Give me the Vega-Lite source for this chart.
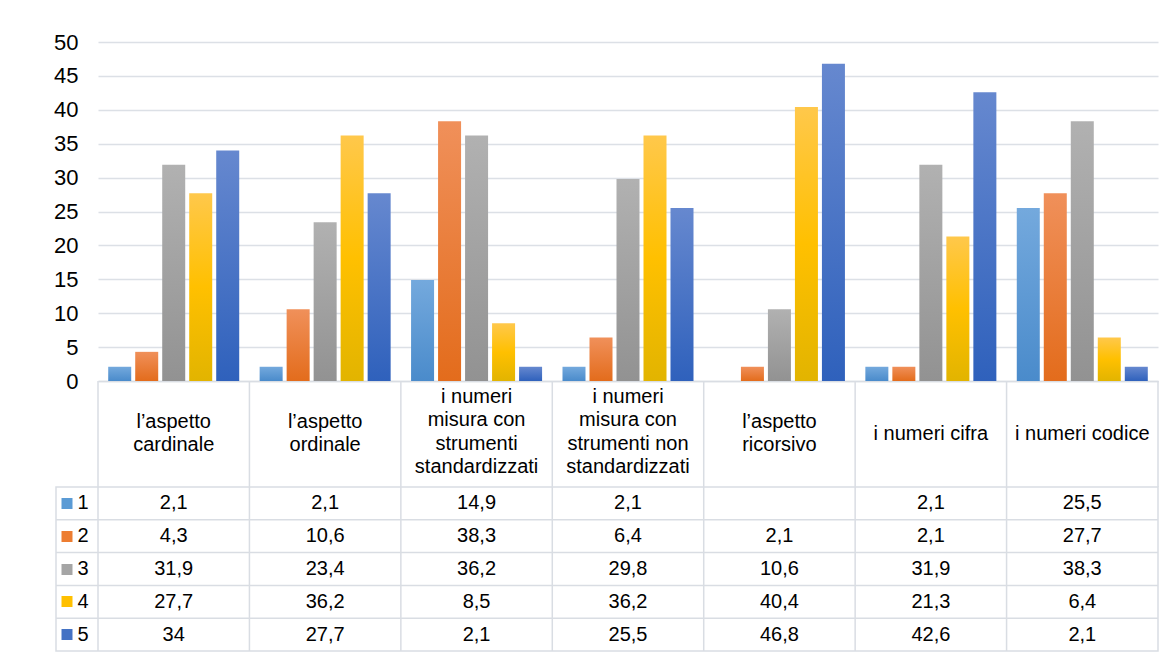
{
  "$schema": "https://vega.github.io/schema/vega-lite/v6.json",
  "autosize": {"type": "pad"},
  "padding": {"left": 53, "top": 31, "right": 0, "bottom": 0},
  "background": "white",
  "config": {
    "view": {"stroke": null},
    "locale": {"number": {"decimal": ",", "thousands": ".", "grouping": [3], "currency": ["", " €"]}},
    "font": "Liberation Sans"
  },
  "datasets": {
    "vals": [
      {"cat": "l’aspetto\ncardinale", "s": "1", "v": 2.1},
      {"cat": "l’aspetto\ncardinale", "s": "2", "v": 4.3},
      {"cat": "l’aspetto\ncardinale", "s": "3", "v": 31.9},
      {"cat": "l’aspetto\ncardinale", "s": "4", "v": 27.7},
      {"cat": "l’aspetto\ncardinale", "s": "5", "v": 34},
      {"cat": "l’aspetto\nordinale", "s": "1", "v": 2.1},
      {"cat": "l’aspetto\nordinale", "s": "2", "v": 10.6},
      {"cat": "l’aspetto\nordinale", "s": "3", "v": 23.4},
      {"cat": "l’aspetto\nordinale", "s": "4", "v": 36.2},
      {"cat": "l’aspetto\nordinale", "s": "5", "v": 27.7},
      {"cat": "i numeri\nmisura con\nstrumenti\nstandardizzati", "s": "1", "v": 14.9},
      {"cat": "i numeri\nmisura con\nstrumenti\nstandardizzati", "s": "2", "v": 38.3},
      {"cat": "i numeri\nmisura con\nstrumenti\nstandardizzati", "s": "3", "v": 36.2},
      {"cat": "i numeri\nmisura con\nstrumenti\nstandardizzati", "s": "4", "v": 8.5},
      {"cat": "i numeri\nmisura con\nstrumenti\nstandardizzati", "s": "5", "v": 2.1},
      {"cat": "i numeri\nmisura con\nstrumenti non\nstandardizzati", "s": "1", "v": 2.1},
      {"cat": "i numeri\nmisura con\nstrumenti non\nstandardizzati", "s": "2", "v": 6.4},
      {"cat": "i numeri\nmisura con\nstrumenti non\nstandardizzati", "s": "3", "v": 29.8},
      {"cat": "i numeri\nmisura con\nstrumenti non\nstandardizzati", "s": "4", "v": 36.2},
      {"cat": "i numeri\nmisura con\nstrumenti non\nstandardizzati", "s": "5", "v": 25.5},
      {"cat": "l’aspetto\nricorsivo", "s": "2", "v": 2.1},
      {"cat": "l’aspetto\nricorsivo", "s": "3", "v": 10.6},
      {"cat": "l’aspetto\nricorsivo", "s": "4", "v": 40.4},
      {"cat": "l’aspetto\nricorsivo", "s": "5", "v": 46.8},
      {"cat": "i numeri cifra", "s": "1", "v": 2.1},
      {"cat": "i numeri cifra", "s": "2", "v": 2.1},
      {"cat": "i numeri cifra", "s": "3", "v": 31.9},
      {"cat": "i numeri cifra", "s": "4", "v": 21.3},
      {"cat": "i numeri cifra", "s": "5", "v": 42.6},
      {"cat": "i numeri codice", "s": "1", "v": 25.5},
      {"cat": "i numeri codice", "s": "2", "v": 27.7},
      {"cat": "i numeri codice", "s": "3", "v": 38.3},
      {"cat": "i numeri codice", "s": "4", "v": 6.4},
      {"cat": "i numeri codice", "s": "5", "v": 2.1}
    ],
    "cats": [
      {"cat": "l’aspetto\ncardinale"},
      {"cat": "l’aspetto\nordinale"},
      {"cat": "i numeri\nmisura con\nstrumenti\nstandardizzati"},
      {"cat": "i numeri\nmisura con\nstrumenti non\nstandardizzati"},
      {"cat": "l’aspetto\nricorsivo"},
      {"cat": "i numeri cifra"},
      {"cat": "i numeri codice"}
    ],
    "series": [{"s": "1"}, {"s": "2"}, {"s": "3"}, {"s": "4"}, {"s": "5"}]
  },
  "vconcat": [
    {
      "width": 1102,
      "height": 339,
      "data": {"name": "vals"},
      "encoding": {
        "x": {
          "field": "cat", "type": "nominal", "sort": null,
          "scale": {
            "domain": ["l’aspetto\ncardinale", "l’aspetto\nordinale", "i numeri\nmisura con\nstrumenti\nstandardizzati", "i numeri\nmisura con\nstrumenti non\nstandardizzati", "l’aspetto\nricorsivo", "i numeri cifra", "i numeri codice"],
            "range": [42, 1102], "paddingInner": 0, "paddingOuter": 0
          },
          "axis": {"labels": false, "ticks": false, "title": null, "domain": true, "domainColor": "#D9DDE3", "domainWidth": 1.5, "grid": false}
        },
        "xOffset": {
          "field": "s", "type": "nominal",
          "scale": {"domain": ["1", "2", "3", "4", "5"], "paddingInner": 0.148, "paddingOuter": 0.378}
        },
        "y": {
          "field": "v", "type": "quantitative",
          "scale": {"domain": [0, 50], "nice": false},
          "axis": {
            "values": [0, 5, 10, 15, 20, 25, 30, 35, 40, 45, 50],
            "title": null, "offset": -22, "labelPadding": 0, "ticks": false, "tickSize": 0,
            "domain": false, "grid": true, "gridColor": "#DCE0E6", "gridWidth": 1.5,
            "labelFont": "Liberation Sans", "labelFontSize": 22, "labelColor": "#000000"
          }
        }
      },
      "layer": [
        {"transform": [{"filter": "datum.s == '1'"}], "mark": {"type": "bar", "color": {"gradient": "linear", "x1": 0, "y1": 0, "x2": 0, "y2": 1, "stops": [{"offset": 0, "color": "#74A9DD"}, {"offset": 1, "color": "#4A8BCB"}]}}},
        {"transform": [{"filter": "datum.s == '2'"}], "mark": {"type": "bar", "color": {"gradient": "linear", "x1": 0, "y1": 0, "x2": 0, "y2": 1, "stops": [{"offset": 0, "color": "#F0905A"}, {"offset": 1, "color": "#E36C1C"}]}}},
        {"transform": [{"filter": "datum.s == '3'"}], "mark": {"type": "bar", "color": {"gradient": "linear", "x1": 0, "y1": 0, "x2": 0, "y2": 1, "stops": [{"offset": 0, "color": "#B1B1B1"}, {"offset": 1, "color": "#929292"}]}}},
        {"transform": [{"filter": "datum.s == '4'"}], "mark": {"type": "bar", "color": {"gradient": "linear", "x1": 0, "y1": 0, "x2": 0, "y2": 1, "stops": [{"offset": 0, "color": "#FFC84B"}, {"offset": 0.5, "color": "#FFC000"}, {"offset": 1, "color": "#E2B400"}]}}},
        {"transform": [{"filter": "datum.s == '5'"}], "mark": {"type": "bar", "color": {"gradient": "linear", "x1": 0, "y1": 0, "x2": 0, "y2": 1, "stops": [{"offset": 0, "color": "#6688CF"}, {"offset": 1, "color": "#2F61BC"}]}}}
      ]
    },
    {
      "width": 1102,
      "height": 106,
      "data": {"name": "cats"},
      "encoding": {
        "x": {
          "field": "cat", "type": "nominal", "sort": null,
          "scale": {
            "domain": ["l’aspetto\ncardinale", "l’aspetto\nordinale", "i numeri\nmisura con\nstrumenti\nstandardizzati", "i numeri\nmisura con\nstrumenti non\nstandardizzati", "l’aspetto\nricorsivo", "i numeri cifra", "i numeri codice"],
            "range": [42, 1102], "paddingInner": 0, "paddingOuter": 0
          },
          "axis": null
        }
      },
      "layer": [
        {"mark": {"type": "rule", "color": "#D9DDE3", "strokeWidth": 1.5}, "encoding": {"x": {"field": "cat", "type": "nominal", "bandPosition": 0}}},
        {"transform": [{"filter": "datum.cat == 'i numeri codice'"}], "mark": {"type": "rule", "color": "#D9DDE3", "strokeWidth": 1.5}, "encoding": {"x": {"field": "cat", "type": "nominal", "bandPosition": 1}}},
        {"transform": [{"filter": "split(datum.cat, '\\n').length == 1"}], "mark": {"type": "text", "lineBreak": "\n", "fontSize": 20, "lineHeight": 23.3, "font": "Liberation Sans", "color": "#000000", "align": "center", "baseline": "middle"}, "encoding": {"text": {"field": "cat"}}},
        {"transform": [{"filter": "split(datum.cat, '\\n').length == 2"}], "mark": {"type": "text", "lineBreak": "\n", "fontSize": 20, "lineHeight": 23.3, "dy": -12, "font": "Liberation Sans", "color": "#000000", "align": "center", "baseline": "middle"}, "encoding": {"text": {"field": "cat"}}},
        {"transform": [{"filter": "split(datum.cat, '\\n').length == 4"}], "mark": {"type": "text", "lineBreak": "\n", "fontSize": 20, "lineHeight": 23.3, "dy": -37, "font": "Liberation Sans", "color": "#000000", "align": "center", "baseline": "middle"}, "encoding": {"text": {"field": "cat"}}}
      ]
    },
    {
      "width": 1102,
      "height": 164,
      "view": {"stroke": "#D9DDE3", "strokeWidth": 1.5},
      "encoding": {
        "x": {
          "field": "cat", "type": "nominal", "sort": null,
          "scale": {
            "domain": ["l’aspetto\ncardinale", "l’aspetto\nordinale", "i numeri\nmisura con\nstrumenti\nstandardizzati", "i numeri\nmisura con\nstrumenti non\nstandardizzati", "l’aspetto\nricorsivo", "i numeri cifra", "i numeri codice"],
            "range": [42, 1102], "paddingInner": 0, "paddingOuter": 0
          },
          "axis": null
        }
      },
      "layer": [
        {"data": {"name": "cats"}, "mark": {"type": "rule", "color": "#D9DDE3", "strokeWidth": 1.5}, "encoding": {"x": {"field": "cat", "type": "nominal", "bandPosition": 0}}},
        {"data": {"name": "series"}, "transform": [{"filter": "datum.s != '1'"}], "mark": {"type": "rule", "color": "#D9DDE3", "strokeWidth": 1.5},
          "encoding": {"x": null, "y": {"field": "s", "type": "nominal", "bandPosition": 0, "scale": {"domain": ["1", "2", "3", "4", "5"], "paddingInner": 0, "paddingOuter": 0}}}},
        {"data": {"name": "vals"}, "mark": {"type": "text", "fontSize": 20, "font": "Liberation Sans", "color": "#000000", "align": "center", "baseline": "middle"},
          "encoding": {
            "y": {
              "field": "s", "type": "nominal",
              "scale": {"domain": ["1", "2", "3", "4", "5"], "paddingInner": 0, "paddingOuter": 0},
              "axis": {
                "title": null, "orient": "left", "offset": -16, "domain": false,
                "ticks": true, "tickSize": 11, "tickWidth": 11, "tickCap": "butt",
                "tickColor": {"condition": [
                  {"test": "datum.value == '1'", "value": "#5B9BD5"},
                  {"test": "datum.value == '2'", "value": "#ED7D31"},
                  {"test": "datum.value == '3'", "value": "#A5A5A5"},
                  {"test": "datum.value == '4'", "value": "#FFC000"}
                ], "value": "#4472C4"},
                "labelAlign": "left", "labelPadding": -16, "labelFont": "Liberation Sans", "labelFontSize": 20, "labelColor": "#000000", "labelBaseline": "middle"
              }
            },
            "text": {"field": "v", "type": "quantitative", "format": ".1~f"}
          }
        }
      ]
    }
  ],
  "spacing": 0,
  "bounds": "flush"
}
